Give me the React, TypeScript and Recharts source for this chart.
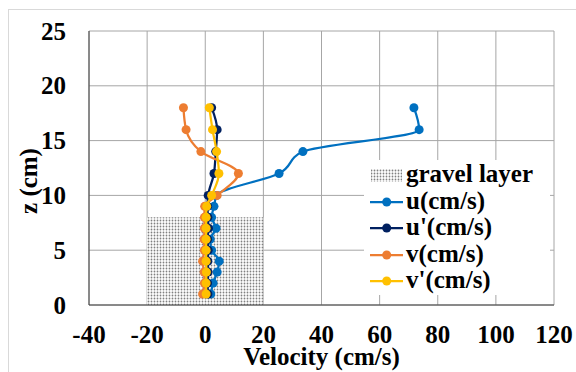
import * as React from 'react';
import { ComposedChart, Scatter, XAxis, YAxis, CartesianGrid, ReferenceArea, Legend, Label } from 'recharts';

// heights (cm) of the measuring points
export const zCm = [1, 2, 3, 4, 5, 6, 7, 8, 9, 10, 12, 14, 16, 18];
export const uVals = [1.9, 2.7, 4.1, 4.8, 2.2, 1.7, 3.7, 2.2, 3.0, 3.9, 25.4, 33.6, 73.6, 71.8];
export const uPrimeVals = [0.9, 0.8, 1.0, 0.9, 1.0, 0.8, 1.1, 0.9, 0.8, 1.0, 3.0, 3.6, 4.1, 2.2];
export const vVals = [-0.9, -0.3, -0.4, -0.9, -0.3, -0.4, -0.3, -0.3, -0.2, 4.1, 11.4, -1.5, -6.6, -7.5];
export const vPrimeVals = [0.3, 0.3, 0.4, 0.3, 0.3, 0.3, 0.3, 0.3, 0.5, 2.2, 4.7, 3.9, 2.5, 1.4];

export const gravelX = [-20, 20];
export const gravelZ = [0, 8];

export const xTicks = [-40, -20, 0, 20, 40, 60, 80, 100, 120];
export const yTicks = [0, 5, 10, 15, 20, 25];

const seriesList = [
  { name: "u(cm/s)", values: uVals, color: "#0070C0" },
  { name: "u'(cm/s)", values: uPrimeVals, color: "#002060" },
  { name: "v(cm/s)", values: vVals, color: "#ED7D31" },
  { name: "v'(cm/s)", values: vPrimeVals, color: "#FFC000" },
];

const FONT = 'Liberation Serif, serif';

const toPoints = (vals: number[]) => vals.map((v, i) => ({ x: v, y: zCm[i] }));

const GravelPattern = ({ id }: { id: string }) => (
  <defs>
    <pattern id={id} patternUnits="userSpaceOnUse" width={3} height={3}>
      <rect x={0} y={0} width={3} height={3} fill="#ffffff" />
      <circle cx={1.5} cy={1.5} r={0.9} fill="#808080" />
    </pattern>
  </defs>
);

function LegendBox() {
  const rows = [15, 42, 68, 95, 121];
  return (
    <svg width={186} height={135} style={{ display: 'block' }}>
      <GravelPattern id="gravel-legend" />
      <rect x={0} y={0} width={186} height={135} fill="#ffffff" />
      <rect x={7} y={rows[0] - 6} width={31} height={13} fill="url(#gravel-legend)" />
      <text x={42} y={rows[0] + 7} fontFamily={FONT} fontWeight="bold" fontSize={25} fill="#000">gravel layer</text>
      {seriesList.map((s, i) => (
        <g key={s.name}>
          <line x1={6} x2={39} y1={rows[i + 1]} y2={rows[i + 1]} stroke={s.color} strokeWidth={2.25} />
          <circle cx={22.7} cy={rows[i + 1]} r={4.5} fill={s.color} />
          <text x={42} y={rows[i + 1] + 7} fontFamily={FONT} fontWeight="bold" fontSize={25} fill="#000">{s.name}</text>
        </g>
      ))}
    </svg>
  );
}

const XTick = (p: any) => (
  <text x={p.x} y={p.y + 17} textAnchor="middle" fontFamily={FONT} fontWeight="bold" fontSize={25} fill="#000">
    {p.payload.value}
  </text>
);

const YTick = (p: any) => (
  <text x={p.x} y={p.y + 8.5} textAnchor="end" fontFamily={FONT} fontWeight="bold" fontSize={25} fill="#000">
    {p.payload.value}
  </text>
);

export default function App() {
  return (
    <div style={{ position: 'absolute', left: 0, top: 0, width: 576, height: 372, overflow: 'hidden', background: '#fff' }}>
      <div style={{ position: 'absolute', left: 8, top: 9, width: 620, height: 420, border: '1px solid #d9d9d9' }} />
      <div style={{ position: 'absolute', left: 0, top: 0 }}>
        <ComposedChart width={576} height={372} margin={{ top: 31, right: 22, bottom: 0, left: 0 }}>
          <GravelPattern id="gravel" />
          <CartesianGrid stroke="#a6a6a6" strokeWidth={1} />
          <XAxis
            type="number"
            dataKey="x"
            domain={[-40, 120]}
            ticks={xTicks}
            interval={0}
            height={67}
            tickLine={false}
            tickSize={6}
            tickMargin={15}
            axisLine={{ stroke: '#404040' }}
            tick={XTick}
          >
            <Label
              content={(p: any) => {
                const vb = p.viewBox || { x: 89, y: 305, width: 465, height: 67 };
                return (
                  <text x={vb.x + vb.width / 2} y={vb.y + 60} textAnchor="middle" fontFamily={FONT} fontWeight="bold" fontSize={25} fill="#000">
                    Velocity (cm/s)
                  </text>
                );
              }}
            />
          </XAxis>
          <YAxis
            type="number"
            dataKey="y"
            domain={[0, 25]}
            ticks={yTicks}
            interval={0}
            width={89}
            tickLine={false}
            tickSize={6}
            tickMargin={17}
            axisLine={{ stroke: '#404040' }}
            tick={YTick}
          >
            <Label
              content={() => (
                <text x={37} y={181} transform="rotate(-90 37 181)" textAnchor="middle" fontFamily={FONT} fontWeight="bold" fontSize={25} fill="#000">
                  z (cm)
                </text>
              )}
            />
          </YAxis>
          <ReferenceArea
            x1={gravelX[0]}
            x2={gravelX[1]}
            y1={gravelZ[0]}
            y2={gravelZ[1]}
            fill="url(#gravel)"
            fillOpacity={1}
            stroke="none"
          />
          {seriesList.map((s) => (
            <Scatter
              key={s.name}
              name={s.name}
              data={toPoints(s.values)}
              fill={s.color}
              line={{ stroke: s.color, strokeWidth: 2.25 }}
              lineJointType="monotoneY"
              isAnimationActive={false}
              shape={(p: any) => <circle cx={p.cx} cy={p.cy} r={4.5} fill={s.color} />}
            />
          ))}
          <Legend
            layout="vertical"
            align="center"
            verticalAlign="middle"
            wrapperStyle={{ position: 'absolute', left: 364, top: 160, width: 186, height: 135 }}
            content={() => <LegendBox />}
          />
        </ComposedChart>
      </div>
    </div>
  );
}
